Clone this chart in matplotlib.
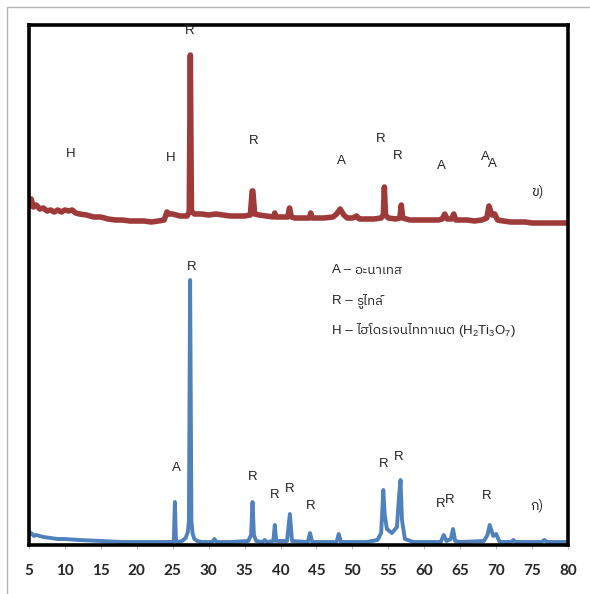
import matplotlib
matplotlib.use("Agg")
import matplotlib.pyplot as plt
from matplotlib import font_manager
from matplotlib.ft2font import FT2Font
from matplotlib.patches import Rectangle

# ---------------- data (2-theta, intensity in arbitrary units) ----------------
# Pattern ข) (top, red) - offset already included
red_x = [5.0, 5.3, 5.6, 6.0, 6.5, 7.0, 7.5, 8.0, 8.5, 9.0, 9.5, 10.0, 10.5, 11.0, 11.5, 12.0,
         13.0, 14.0, 15.0, 16.0, 17.0, 18.0, 19.0, 20.0, 21.0, 22.0, 23.0, 23.8, 24.2, 24.5,
         25.0, 25.5, 26.0, 27.0, 27.3, 27.45, 27.6, 28.0, 29.0, 30.0, 31.0, 32.0, 33.0, 34.0,
         35.0, 35.8, 36.05, 36.15, 36.4, 37.0, 38.0, 39.0, 39.2, 39.4, 40.0, 41.0, 41.25, 41.5,
         42.0, 43.0, 44.0, 44.2, 44.4, 45.0, 46.0, 47.3, 47.8, 48.3, 48.8, 49.3, 50.0, 50.6,
         50.8, 51.0, 52.0, 53.0, 54.0, 54.3, 54.45, 54.6, 55.0, 56.0, 56.6, 56.8, 57.0, 58.0,
         59.0, 60.0, 61.0, 62.0, 62.5, 62.85, 63.2, 63.8, 64.1, 64.4, 65.0, 66.0, 67.0, 68.0,
         68.7, 69.0, 69.4, 69.8, 70.2, 71.0, 72.0, 73.0, 74.0, 75.0, 76.0, 77.0, 78.0, 79.0, 80.0]
red_y = [340, 346, 338, 340, 336, 337, 334, 335, 333, 335, 333, 335, 334, 335, 332, 331,
         330, 328, 328, 326, 325, 325, 324, 324, 324, 323, 324, 325, 333, 331,
         331, 330, 329, 329, 333, 490, 334, 331, 331, 330, 331, 330, 329, 329,
         329, 330, 354, 354, 331, 330, 329, 328, 332, 328, 328, 328, 337, 328,
         327, 327, 327, 332, 327, 327, 327, 328, 331, 336, 330, 327, 327, 329,
         327, 326, 326, 326, 327, 330, 358, 330, 327, 326, 327, 340, 327, 325,
         325, 325, 325, 325, 326, 331, 326, 326, 331, 325, 325, 325, 324, 325,
         327, 339, 330, 331, 325, 324, 323, 323, 323, 322, 322, 322, 322, 322, 322]

# Pattern ก) (bottom, blue)
blue_x = [5.0, 5.3, 5.7, 6.0, 7.0, 8.0, 9.0, 10.0, 12.0, 15.0, 18.0, 20.0, 24.9, 25.15,
          25.3, 25.45, 25.7, 26.3, 26.8, 27.1, 27.25, 27.42, 27.6, 27.75, 28.0, 28.4, 29.0,
          30.5, 30.8, 31.1, 33.0, 35.5, 35.9, 36.1, 36.3, 36.6, 37.5, 37.8, 38.1, 39.0, 39.2,
          39.4, 40.9, 41.3, 41.6, 43.8, 44.1, 44.4, 47.8, 48.1, 48.4, 52.0, 53.5, 54.0, 54.3,
          54.5, 54.8, 55.5, 56.2, 56.5, 56.7, 56.9, 57.3, 58.5, 62.3, 62.7, 63.1, 63.7, 64.0,
          64.3, 65.0, 68.3, 68.8, 69.1, 69.6, 70.0, 70.5, 72.1, 72.4, 72.7, 76.3, 76.7, 77.1,
          78.5, 80.0]
blue_y = [10, 12, 9, 10, 8, 7, 6, 6, 5, 4, 3, 3, 3, 4,
          43, 4, 3, 4, 7, 13, 24, 265, 24, 12, 6, 4, 3,
          3, 6, 3, 3, 4, 10, 43, 10, 4, 3, 5, 3, 4, 20,
          4, 4, 31, 4, 3, 12, 3, 3, 11, 3, 3, 5, 12, 55,
          30, 16, 12, 18, 50, 65, 25, 6, 3, 3, 10, 4, 6, 16,
          4, 3, 4, 10, 20, 9, 11, 3, 3, 5, 3, 3, 5, 3,
          3, 3]

x_ticks = [5, 10, 15, 20, 25, 30, 35, 40, 45, 50, 55, 60, 65, 70, 75, 80]

# phase labels: (text, 2-theta, height)
top_labels = [("R", 27.40, 514), ("H", 10.84, 391), ("H", 24.76, 387), ("R", 36.31, 404),
              ("A", 48.41, 384), ("R", 53.98, 406), ("R", 56.34, 389), ("A", 62.33, 379),
              ("A", 68.45, 388), ("A", 69.42, 381)]
bottom_labels = [("R", 27.68, 278), ("A", 25.45, 77), ("R", 36.17, 68), ("R", 39.23, 50),
                 ("R", 41.32, 56), ("R", 44.19, 39), ("R", 54.30, 81), ("R", 56.48, 88),
                 ("R", 62.33, 41), ("R", 63.58, 45), ("R", 68.68, 49)]
sample_labels = [("ข)", 75.68, 353), ("ก)", 75.64, 40)]
legend_lines = [("A – ", "อะนาเทส", ""), ("R – ", "รูไทล์", ""),
                ("H – ", "ไฮโดรเจนไททาเนต ", "(H$_2$Ti$_3$O$_7$)")]

# ---------------- fonts ----------------
def find_thai():
    best = None
    for f in font_manager.fontManager.ttflist:
        try:
            cmap = FT2Font(f.fname).get_charmap()
        except Exception:
            continue
        if 0x0E2D in cmap and 0x0E44 in cmap and 0x0E39 in cmap:
            if best is None or ("Sans" in f.name and "Sans" not in best):
                best = f.name
    return best or "DejaVu Sans"

THAI = find_thai()
LAT = "Liberation Sans"
plt.rcParams["mathtext.fontset"] = "custom"
plt.rcParams["mathtext.rm"] = LAT
plt.rcParams["mathtext.it"] = LAT

W, H = 590, 594
fig = plt.figure(figsize=(W / 100, H / 100), dpi=100)
fig.patch.set_facecolor("white")

# outer light gray frame
fig.add_artist(Rectangle((7 / W, -0.1), 1.2, 1 - 7 / H + 0.1, transform=fig.transFigure,
                         fill=False, edgecolor="#b4b4b4", linewidth=1.0))

ax = fig.add_axes([29 / W, 1 - 545 / H, (568 - 29) / W, (545 - 25) / H])
ax.plot(red_x, red_y, color="#9E3A3A", linewidth=4.0, solid_joinstyle="round")
ax.plot(blue_x, blue_y, color="#4F81BD", linewidth=2.8, solid_joinstyle="round")

ax.set_xlim(5, 80)
ax.set_ylim(0, 520)
ax.set_xticks(x_ticks)
ax.set_xticklabels([str(t) for t in x_ticks], fontfamily="Lato", fontweight="bold",
                   fontsize=11, color="#262626")
ax.tick_params(axis="x", direction="out", length=3, width=0.8, color="#bbbbbb", pad=11)
ax.set_yticks([])
for s in ax.spines.values():
    s.set_linewidth(2.6)
    s.set_color("black")

for lab_set in (top_labels, bottom_labels):
    for t, x, y in lab_set:
        ax.text(x, y, t, ha="center", va="center", fontsize=9.5, fontfamily=LAT,
                color="#222222", clip_on=False)
for t, x, y in sample_labels:
    ax.text(x, y, t, ha="center", va="center", fontsize=10, family=[THAI, LAT],
            color="#222222")

leg_y = [275, 244, 214]
for (a, b, c), y in zip(legend_lines, leg_y):
    t1 = ax.text(47.12, y, a, ha="left", va="center", fontsize=9.5, fontfamily=LAT,
                 color="#222222")
    t2 = ax.annotate(b, xy=(1, 0.5), xycoords=t1, ha="left", va="center", fontsize=9.5,
                     family=[THAI, LAT], color="#222222")
    if c:
        ax.annotate(c, xy=(1, 0.5), xycoords=t2, ha="left", va="center", fontsize=9.5,
                    fontfamily=LAT, color="#222222")

fig.savefig("out.png", dpi=100)
